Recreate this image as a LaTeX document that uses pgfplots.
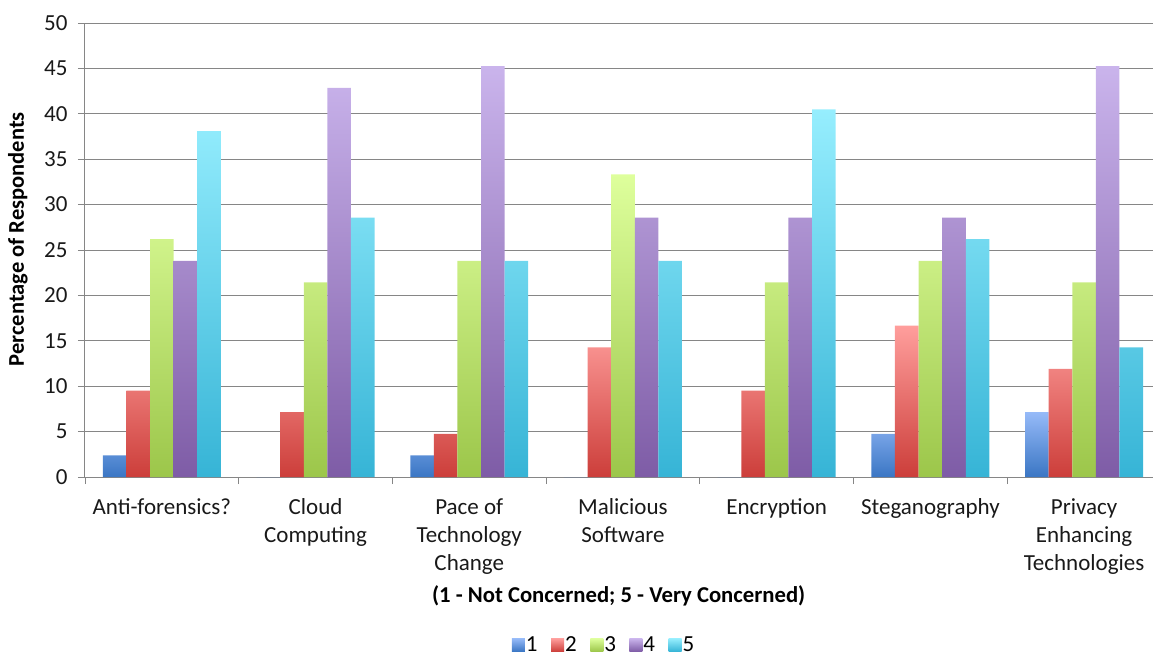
\documentclass[border=0pt]{standalone}
\usepackage{pgfplots}
\pgfplotsset{compat=1.18}
\usepackage{fontspec}
\setmainfont{Carlito}
\definecolor{gridgray}{RGB}{134,134,134}
\definecolor{aT}{RGB}{150,186,248}\definecolor{aB}{RGB}{58,118,196}
\definecolor{bT}{RGB}{255,158,156}\definecolor{bB}{RGB}{204,62,58}
\definecolor{cT}{RGB}{222,255,156}\definecolor{cB}{RGB}{156,198,74}
\definecolor{dT}{RGB}{202,180,236}\definecolor{dB}{RGB}{126,92,166}
\definecolor{eT}{RGB}{150,238,254}\definecolor{eB}{RGB}{54,180,214}
\begin{document}
\begin{tikzpicture}
\begin{axis}[
  name=ax,
  scale only axis,
  width=1076pt, height=454pt,
  ybar=0pt, bar width=0.1535,
  xmin=-0.5, xmax=6.5,
  ymin=0, ymax=50,
  ytick={0,5,...,50},
  xtick={0,...,6},
  xticklabels={Anti-forensics?,{Cloud\\Computing},{Pace of\\Technology\\Change},{Malicious\\Software},Encryption,Steganography,{Privacy\\Enhancing\\Technologies}},
  minor xtick={-0.5,0.5,...,6.5},
  major x tick style={draw=none},
  minor x tick style={gridgray, line width=0.8pt},
  minor tick length=7pt,
  major tick length=7pt,
  tick align=outside,
  ytick style={gridgray, line width=0.8pt},
  axis x line*=bottom, axis y line*=left,
  axis line style={gridgray, line width=1pt},
  ymajorgrids,
  grid style={gridgray, line width=0.8pt},
  /pgf/number format/assume math mode=true,
  ticklabel style={font=\fontsize{23}{28}\selectfont, text=black!90},
  xticklabel style={align=center, yshift=-11pt},
  yticklabel style={xshift=-7pt},
  xlabel={(1 - Not Concerned; 5 - Very Concerned)},
  xlabel style={font=\fontsize{22.7}{27}\selectfont\bfseries, at={(axis description cs:0.496,-0.262)}, anchor=center},
  ylabel={Percentage of Respondents},
  ylabel style={font=\fontsize{22.5}{27}\selectfont\bfseries, at={(axis description cs:-0.0623,0.524)}, anchor=center},
  legend columns=5,
  legend style={draw=none, fill=none, at={(axis description cs:0.482,-0.370)}, anchor=center, font=\fontsize{23}{25}\selectfont, inner sep=0pt, nodes={inner sep=1pt}, /tikz/every even column/.append style={column sep=12.5pt}},
  legend image code/.code={\path[#1] (0pt,-6.5pt) rectangle (13pt,6.5pt);},
]
\addplot[draw=none, top color=aT, bottom color=aB] coordinates {(0,2.38) (1,0) (2,2.38) (3,0) (4,0) (5,4.76) (6,7.14)};
\addplot[draw=none, top color=bT, bottom color=bB] coordinates {(0,9.52) (1,7.14) (2,4.76) (3,14.29) (4,9.52) (5,16.67) (6,11.90)};
\addplot[draw=none, top color=cT, bottom color=cB] coordinates {(0,26.19) (1,21.43) (2,23.81) (3,33.33) (4,21.43) (5,23.81) (6,21.43)};
\addplot[draw=none, top color=dT, bottom color=dB] coordinates {(0,23.81) (1,42.86) (2,45.24) (3,28.57) (4,28.57) (5,28.57) (6,45.24)};
\addplot[draw=none, top color=eT, bottom color=eB] coordinates {(0,38.10) (1,28.57) (2,23.81) (3,23.81) (4,40.48) (5,26.19) (6,14.29)};
\legend{1,2,3,4,5}
\end{axis}
\pgfresetboundingbox
\path (ax.south west) +(-85pt,-180pt) rectangle +(1068pt,477pt);
\end{tikzpicture}
\end{document}
